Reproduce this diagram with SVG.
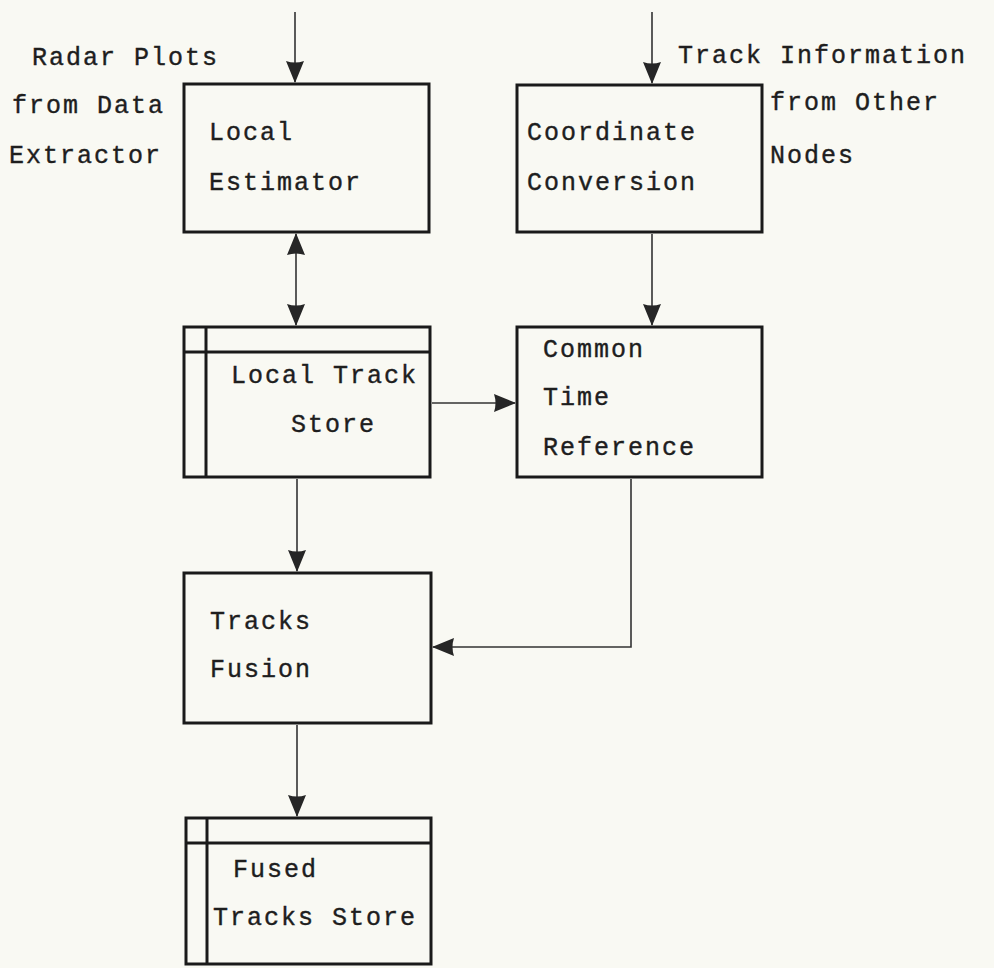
<svg xmlns="http://www.w3.org/2000/svg" width="994" height="968" viewBox="0 0 994 968">
  <defs>
    <marker id="arrow" viewBox="0 0 22 18" refX="21" refY="9" markerWidth="22" markerHeight="18" markerUnits="userSpaceOnUse" orient="auto-start-reverse">
      <path d="M0,0 L22,9 L0,18 Q3,9 0,0 Z" fill="#262626"/>
    </marker>
    <style>
      .box { fill: none; stroke: #1a1a1a; stroke-width: 3; }
      .div { stroke: #1a1a1a; stroke-width: 3; }
      .conn { fill: none; stroke: #333; stroke-width: 1.6; }
      text { font-family: "Liberation Mono", "DejaVu Sans Mono", monospace; font-size: 25px; letter-spacing: 2px; fill: #1e1e1e; stroke: #1e1e1e; stroke-width: 0.4; }
    </style>
  </defs>

  <rect width="994" height="968" fill="#f9f9f3"/>

  <!-- external input labels -->
  <g id="label-radar">
    <text x="32" y="65">Radar Plots</text>
    <text x="12" y="113">from Data</text>
    <text x="9" y="163">Extractor</text>
  </g>
  <g id="label-track-info">
    <text x="678" y="63">Track Information</text>
    <text x="770" y="110">from Other</text>
    <text x="770" y="163">Nodes</text>
  </g>

  <!-- process boxes -->
  <g id="local-estimator">
    <rect class="box" x="184" y="84" width="245" height="148"/>
    <text x="209" y="140">Local</text>
    <text x="209" y="190">Estimator</text>
  </g>
  <g id="coordinate-conversion">
    <rect class="box" x="517" y="85" width="245" height="147"/>
    <text x="527" y="140">Coordinate</text>
    <text x="527" y="190">Conversion</text>
  </g>
  <g id="local-track-store">
    <rect class="box" x="184" y="327" width="246" height="150"/>
    <line class="div" x1="184" y1="352" x2="430" y2="352"/>
    <line class="div" x1="206" y1="327" x2="206" y2="477"/>
    <text x="231" y="383">Local Track</text>
    <text x="291" y="432">Store</text>
  </g>
  <g id="common-time-reference">
    <rect class="box" x="517" y="327" width="245" height="150"/>
    <text x="543" y="357">Common</text>
    <text x="543" y="405">Time</text>
    <text x="543" y="455">Reference</text>
  </g>
  <g id="tracks-fusion">
    <rect class="box" x="184" y="573" width="247" height="150"/>
    <text x="210" y="629">Tracks</text>
    <text x="210" y="677">Fusion</text>
  </g>
  <g id="fused-tracks-store">
    <rect class="box" x="186" y="818" width="245" height="146"/>
    <line class="div" x1="186" y1="843" x2="431" y2="843"/>
    <line class="div" x1="207" y1="818" x2="207" y2="964"/>
    <text x="233" y="877">Fused</text>
    <text x="213" y="925">Tracks Store</text>
  </g>

  <!-- connectors -->
  <g id="connectors">
    <line class="conn" x1="295" y1="12" x2="295" y2="82" marker-end="url(#arrow)"/>
    <line class="conn" x1="652" y1="12" x2="652" y2="83" marker-end="url(#arrow)"/>
    <line class="conn" x1="296" y1="234" x2="296" y2="325" marker-start="url(#arrow)" marker-end="url(#arrow)"/>
    <line class="conn" x1="652" y1="234" x2="652" y2="325" marker-end="url(#arrow)"/>
    <line class="conn" x1="432" y1="403" x2="515" y2="403" marker-end="url(#arrow)"/>
    <line class="conn" x1="297" y1="479" x2="297" y2="571" marker-end="url(#arrow)"/>
    <path class="conn" d="M631,479 V647 H433" marker-end="url(#arrow)"/>
    <line class="conn" x1="297" y1="725" x2="297" y2="816" marker-end="url(#arrow)"/>
  </g>
</svg>
